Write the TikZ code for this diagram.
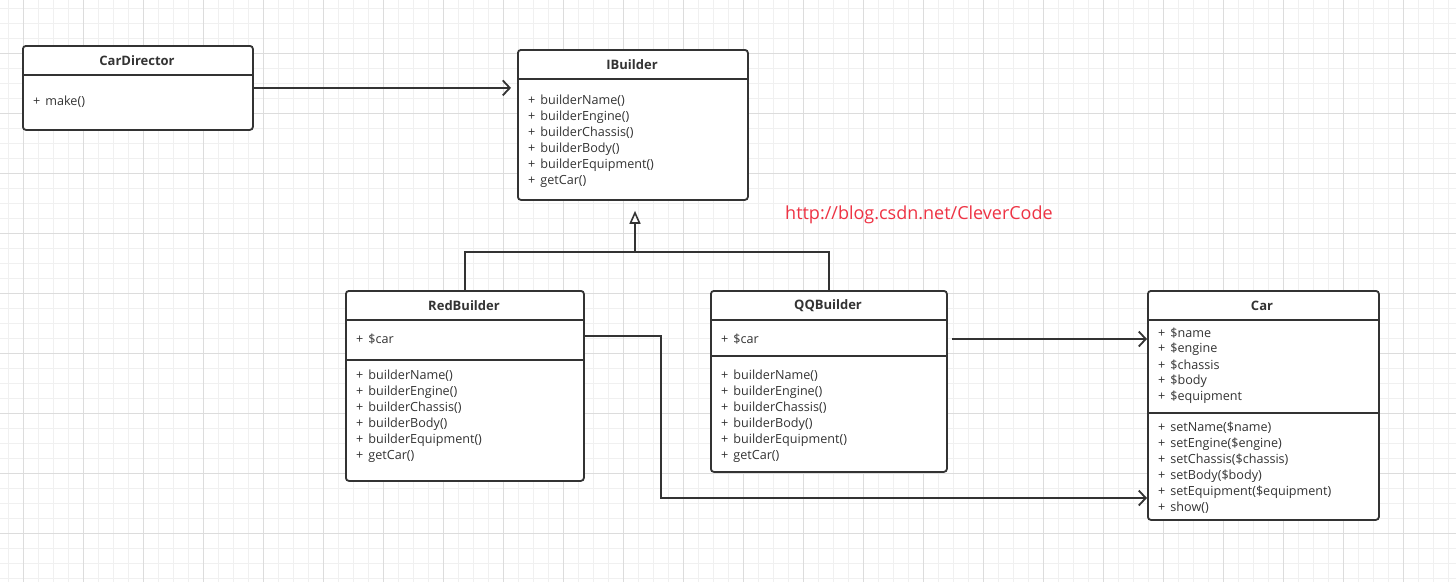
\documentclass[tikz,border=0pt]{standalone}
\usepackage{fontspec}
\setmainfont{Open Sans}
\usetikzlibrary{arrows.meta}
\definecolor{minorg}{HTML}{F0F0F0}
\definecolor{majorg}{HTML}{DCDCDC}
\definecolor{ink}{HTML}{333333}
\definecolor{urlred}{HTML}{EE3344}
\newcommand{\pl}{+\hspace{5pt}}
\tikzset{
  classbox/.style={draw=ink, fill=white, line width=1.8pt, rounded corners=3pt, anchor=north west, inner sep=0pt},
  divider/.style={draw=ink, line width=1.8pt},
  title/.style={font=\fontsize{13}{15}\selectfont\bfseries, text=ink, inner sep=0pt},
  item/.style={font=\fontsize{12.6}{14}\selectfont, text=ink, anchor=west, inner sep=0pt},
  conn/.style={draw=ink, line width=1.8pt},
  assoc/.style={conn, -{Straight Barb[length=7pt,width=15pt,line width=1.8pt]}},
  gen/.style={conn, -{Triangle[open,length=13pt,width=11pt,line width=1.6pt]}},
}
\begin{document}
\begin{tikzpicture}[x=1pt,y=-1pt]
\useasboundingbox (0,0) rectangle (1456,582);
\fill[white] (0,0) rectangle (1456,582);
% grid
\foreach \x in {8,23,...,1456} \draw[minorg, line width=0.8pt] (\x,0) -- (\x,582);
\foreach \y in {8,23,...,582} \draw[minorg, line width=0.8pt] (0,\y) -- (1456,\y);
\foreach \x in {23,83,...,1456} \draw[majorg, line width=0.8pt] (\x,0) -- (\x,582);
\foreach \y in {53,113,...,582} \draw[majorg, line width=0.8pt] (0,\y) -- (1456,\y);

% CarDirector
\node[classbox, minimum width=230pt, minimum height=84pt] (cd) at (22,45) {};
\draw[divider] (22,75) -- (252,75);
\node[title] (cdt) at (137,61) {CarDirector};
\node[item] (cdm) at (33,102) {\pl make()};

% IBuilder
\node[classbox, minimum width=230pt, minimum height=150pt] (ib) at (517,49) {};
\draw[divider] (517,79) -- (747,79);
\node[title] (ibt) at (632,65) {IBuilder};
\foreach \t [count=\i] in {builderName(),builderEngine(),builderChassis(),builderBody(),builderEquipment(),getCar()}
  \node[item] (ib\i) at (528,{85+16*\i}) {\pl\t};

% RedBuilder
\node[classbox, minimum width=238pt, minimum height=190pt] (rb) at (345,290) {};
\draw[divider] (345,320) -- (583,320);
\draw[divider] (345,360) -- (583,360);
\node[title] (rbt) at (464,306) {RedBuilder};
\node[item] (rcar) at (356,339) {\pl\$car};
\foreach \t [count=\i] in {builderName(),builderEngine(),builderChassis(),builderBody(),builderEquipment(),getCar()}
  \node[item] (rb\i) at (356,{360+16*\i}) {\pl\t};

% QQBuilder
\node[classbox, minimum width=236pt, minimum height=181pt] (qb) at (710,290) {};
\draw[divider] (710,320) -- (946,320);
\draw[divider] (710,356) -- (946,356);
\node[title] (qbt) at (828,306) {QQBuilder};
\node[item] (qcar) at (721,339) {\pl\$car};
\foreach \t [count=\i] in {builderName(),builderEngine(),builderChassis(),builderBody(),builderEquipment(),getCar()}
  \node[item] (qb\i) at (721,{360+16*\i}) {\pl\t};

% Car
\node[classbox, minimum width=231pt, minimum height=229pt] (car) at (1147,290) {};
\draw[divider] (1147,320) -- (1378,320);
\draw[divider] (1147,413) -- (1378,413);
\node[title] (cart) at (1262,306) {Car};
\foreach \t [count=\i] in {\$name,\$engine,\$chassis,\$body,\$equipment}
  \node[item] (ca\i) at (1158,{317+16*\i}) {\pl\t};
\foreach \t [count=\i] in {setName(\$name),setEngine(\$engine),setChassis(\$chassis),setBody(\$body),setEquipment(\$equipment),show()}
  \node[item] (cm\i) at (1158,{412+16*\i}) {\pl\t};

% URL
\node[font=\fontsize{18}{21}\selectfont, text=urlred, anchor=west, inner sep=0pt] (url) at (785,215) {http://blog.csdn.net/CleverCode};

% connectors
\draw[assoc, shorten >=6pt] (cd.east) -- (cd.east -| ib.west);
\coordinate (junc) at (635,252);
\draw[conn] (rb.north) |- (qb.north |- junc) -- (qb.north);
\draw[gen, shorten >=10pt] (junc) -- (ib.south -| junc);
\draw[assoc] ([xshift=4pt]qb.east |- qcar) -- (car.west |- qcar);
\coordinate (bend) at (661,498);
\draw[assoc] ([yshift=3pt]rb.east |- rcar) -| (bend) -- (car.west |- bend);
\end{tikzpicture}
\end{document}
